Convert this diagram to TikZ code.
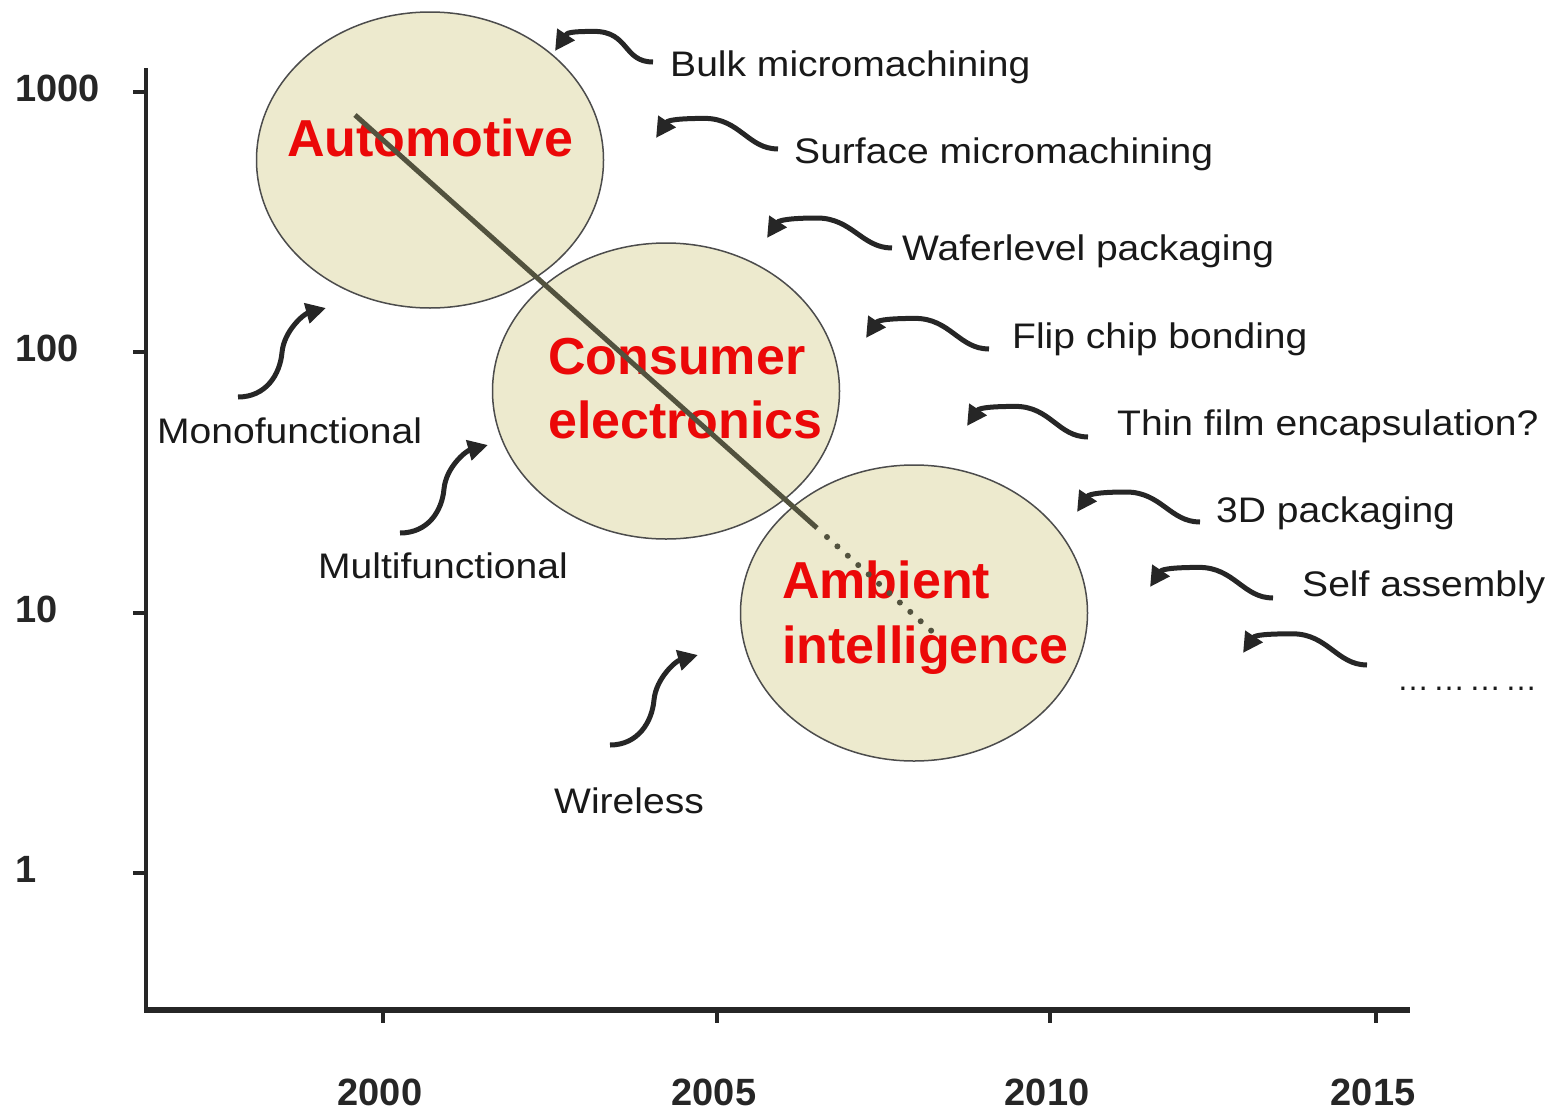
\documentclass[tikz,border=0pt]{standalone}
\usepackage{fontspec}
\setmainfont{Liberation Sans}
\newfontfamily\lblfont[FakeStretch=1.1]{Liberation Sans}
\usetikzlibrary{shapes.geometric,arrows.meta,calc}
\definecolor{bubblefill}{RGB}{237,234,206}
\definecolor{trendcol}{RGB}{82,82,62}
\definecolor{techred}{RGB}{235,8,8}
\begin{document}
\begin{tikzpicture}[x=1pt,y=-1pt,
  bubble/.style={ellipse,draw=black!70,line width=1.5pt,fill=bubblefill,
    minimum width=347pt,minimum height=296pt,inner sep=0pt},
  tech/.style={anchor=base west,inner sep=0pt,text=techred,
    font=\fontsize{52}{60}\selectfont\bfseries},
  lbl/.style={anchor=base west,inner sep=0pt,text=black!90,
    font=\lblfont\fontsize{35.5}{40}\selectfont},
  dotslbl/.style={anchor=base west,inner sep=0pt,text=black!90,
    font=\fontsize{32}{38}\selectfont},
  ynum/.style={anchor=base west,inner sep=0pt,text=black!85,
    font=\fontsize{38}{44}\selectfont\bfseries},
  xnum/.style={anchor=base,inner sep=0pt,text=black!85,
    font=\fontsize{38}{44}\selectfont\bfseries},
  yaxis/.style={line width=4pt,black!85},
  xaxis/.style={line width=6pt,black!85},
  curvy/.style={line width=5pt,black!85,-{Triangle[length=20pt,width=20pt]}},
  trendline/.style={line width=5pt,trendcol},
  trenddots/.style={line width=6pt,trendcol,line cap=round,dash pattern=on 0pt off 14pt},
]
\useasboundingbox (0,0) rectangle (1555,1111);

% axes
\coordinate (yaxtop) at (146,68);
\coordinate (origin) at (146,1010);
\coordinate (yaxbot) at (146,1013);
\coordinate (xaxend) at (1410,1010);
\draw[yaxis] (yaxtop) -- (yaxbot);
\draw[xaxis] (origin) -- (xaxend);
\foreach \y/\lab in {92/1000,352/100,613/10,873/1}{
  \coordinate (yt\lab) at (133,\y);
  \coordinate (yo\lab) at (146,\y);
  \draw[yaxis] (yt\lab) -- (yo\lab);
  \node[ynum] (ylab\lab) at (15,\y+9) {\lab};
}
\foreach \x/\lab in {383/2000,717/2005,1050/2010,1376/2015}{
  \coordinate (xo\lab) at (\x,1010);
  \coordinate (xt\lab) at (\x,1023);
  \draw[yaxis] (xo\lab) -- (xt\lab);
  \node[xnum] (xlab\lab) at (\x-3,1105) {\lab};
}

% bubbles
\node[bubble] (auto) at (430,160) {};
\node[bubble] (cons) at (666,391) {};
\node[bubble] (amb) at (914,613) {};

\node[tech] (autoT) at (287,156) {Automotive};
\node[tech] (consT1) at (548,374) {Consumer};
\node[tech] (consT2) at (548,438) {electronics};
\node[tech] (ambT1) at (782,598) {Ambient};
\node[tech] (ambT2) at (782,663) {intelligence};

% trend line
\coordinate (trendA) at (355,115);
\coordinate (trendB) at (817,528);
\coordinate (trendB2) at (827,537);
\coordinate (trendC) at (936,635);
\draw[trendline] (trendA) -- (trendB);
\draw[trenddots] (trendB2) -- (trendC);

% technology labels
\node[lbl] (bulk) at (670,76) {Bulk micromachining};
\node[lbl] (surf) at (794,163) {Surface micromachining};
\node[lbl] (wafer) at (902,260) {Waferlevel packaging};
\node[lbl] (flip) at (1012,348) {Flip chip bonding};
\node[lbl] (thin) at (1117,435) {Thin film encapsulation?};
\node[lbl] (three) at (1216,522) {3D packaging};
\node[lbl] (self) at (1302,596) {Self assembly};
\node[dotslbl] (more) at (1397,690) {…\hspace{4pt}…\hspace{4pt}…\hspace{4pt}…};

\node[lbl] (mono) at (157,443) {Monofunctional};
\node[lbl] (multi) at (318,578) {Multifunctional};
\node[lbl] (wire) at (554,813) {Wireless};

% left-pointing curved arrows
\foreach \n/\tx/\ty/\px/\py in {bulk/653/62/555/51, surf/778/149/656/138,
    wafer/892/248/767/238, flip/989/349/866/338, thin/1088/437/967/426,
    three/1200/522/1077/512, self/1273/598/1150/587, more/1367/665/1243/653}{
  \coordinate (\n-t) at (\tx,\ty);
  \coordinate (\n-p) at (\px,\py);
  \draw[curvy] (\n-t) .. controls +(-30,0) and +(35,0) ..
    ($(\n-t)!0.6!(\n-p)+(0,-24)$) .. controls +(-25,0) and +(12,-18) .. (\n-p);
}

% upward curved arrows
\foreach \n/\tx/\ty/\px/\py in {mono/238/397/326/308, multi/400/533/488/445,
    wire/610/745/698/655}{
  \coordinate (\n-t) at (\tx,\ty);
  \coordinate (\n-p) at (\px,\py);
  \draw[curvy] (\n-t) .. controls +(28,0) and +(-2,22) ..
    ($(\n-t)!0.5!(\n-p)$) .. controls +(2,-22) and +(-22,6) .. (\n-p);
}
\end{tikzpicture}
\end{document}
